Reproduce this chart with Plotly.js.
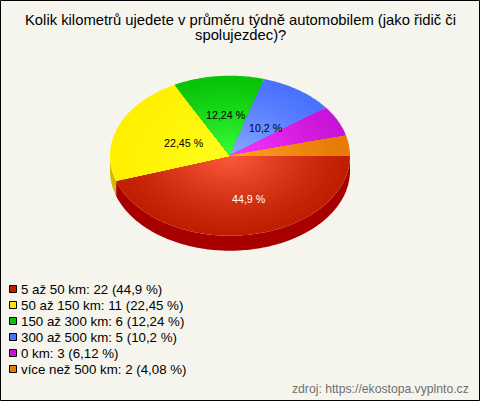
<!DOCTYPE html>
<html><head><meta charset="utf-8">
<script src="https://cdn.plot.ly/plotly-3.0.1.min.js"></script>
<style>html,body{margin:0;padding:0;background:#f5f5ee}#c{width:480px;height:401px}</style>
</head><body><div id="c"></div>
<script>
var categories = ['5 až 50 km','50 až 150 km','150 až 300 km','300 až 500 km','0 km','více než 500 km'];
var counts = [22,11,6,5,3,2];
var percentLabels = ['44,9 %','22,45 %','12,24 %','10,2 %','6,12 %','4,08 %'];
var edgeColors = ['#c01e00','#fff000','#08c408','#4a72ff','#c814d8','#e87a08'];
var centerColors = ['#ff5c3e','#ffff20','#3cff3c','#8cacff','#ff38ff','#ffa424'];
var swatchColors = ['#c01e00','#ffe800','#08c408','#4a72ff','#c814d8','#e87a08'];
var sideColors = ['#a80000','#d8b800','#009000','#2040c0','#900090','#b85000'];
var labelColors = ['#ffffff','#000000','#000000','#000000',null,null];
var titleLines = ['Kolik kilometrů ujedete v průměru týdně automobilem (jako řidič či','spolujezdec)?'];
var sourceText = 'zdroj: https://ekostopa.vyplnto.cz';

var RX=120, RY=80, DEPTH=15, CX=230, CY=155.7, W=480, H=401, STEPS=26;
var labelShiftX=[9.4,9.6,2,2], labelShiftY=[-3.8,-2,1,-5];
var FONT='Liberation Sans, Arial';
var total = counts.reduce(function(a,b){return a+b;},0);
function hex(c){return [1,3,5].map(function(i){return parseInt(c.substr(i,2),16);});}
function mix(a,b,t){var A=hex(a),B=hex(b);return 'rgb('+A.map(function(v,i){return Math.round(v+(B[i]-v)*t);}).join(',')+')';}
function wedge(a0,a1,r){var xs=[0],ys=[0],n=Math.max(3,Math.ceil((a1-a0)/0.02));
  for(var i=0;i<=n;i++){var a=a0+(a1-a0)*i/n;xs.push(r*RX*Math.cos(a));ys.push(-r*RY*Math.sin(a));}
  xs.push(0);ys.push(0);return {x:xs,y:ys};}
function side(a0,a1){a0=Math.max(a0,0);a1=Math.min(a1,Math.PI);if(a1<=a0)return null;var xs=[],ys=[],n=Math.ceil((a1-a0)/0.02),i,a;
  for(i=0;i<=n;i++){a=a0+(a1-a0)*i/n;xs.push(RX*Math.cos(a));ys.push(-RY*Math.sin(a));}
  for(i=n;i>=0;i--){a=a0+(a1-a0)*i/n;xs.push(RX*Math.cos(a));ys.push(-RY*Math.sin(a)-DEPTH);}
  xs.push(xs[0]);ys.push(ys[0]);return {x:xs,y:ys};}
var traces=[], annotations=[], shapes=[], start=0;
var fills=[];
counts.forEach(function(v,k){
  var a1=start+v/total*2*Math.PI, s=side(start,a1);
  if(s) traces.push({type:'scatter',mode:'none',x:s.x,y:s.y,fill:'toself',fillcolor:sideColors[k],hoverinfo:'skip',showlegend:false});
  for(var j=0;j<STEPS;j++){
    var r=1-j/STEPS, w=wedge(start,a1,r);
    fills.push({type:'scatter',mode:'none',x:w.x,y:w.y,fill:'toself',fillcolor:mix(edgeColors[k],centerColors[k],Math.pow(1-r,1.25)),
      name:categories[k],hoverinfo:j===0?'name':'skip',showlegend:false});
  }
  if(labelColors[k]){
    var m=(start+a1)/2;
    annotations.push({xref:'x',yref:'y',x:0.5*RX*Math.cos(m),y:-0.5*RY*Math.sin(m),xshift:labelShiftX[k],yshift:labelShiftY[k],text:percentLabels[k],showarrow:false,
      font:{family:FONT,size:10.7,color:labelColors[k]}});
  }
  annotations.push({xref:'paper',yref:'paper',xanchor:'left',yanchor:'middle',x:20/W,y:1-(289+16*k)/H,showarrow:false,borderpad:0,
     text:categories[k]+': '+v+' ('+percentLabels[k]+')',font:{family:FONT,size:13.3,color:'#000'}});
  shapes.push({type:'rect',xref:'paper',yref:'paper',x0:9.5/W,x1:16.5/W,y0:1-(285.5+16*k)/H,y1:1-(292.5+16*k)/H,fillcolor:swatchColors[k],line:{color:'#000',width:1}});
  start=a1;
});
traces=traces.concat(fills);
annotations.push({xref:'paper',yref:'paper',xanchor:'right',yanchor:'middle',x:470.5/W,y:1-389/H,showarrow:false,text:sourceText,
  font:{family:FONT,size:12.2,color:'#707070'}});
titleLines.forEach(function(line,i){
  annotations.push({xref:'paper',yref:'paper',xanchor:'center',yanchor:'middle',x:240/W,y:1-(19.5+16*i)/H,showarrow:false,text:line,
    font:{family:FONT,size:14.8,color:'#000'}});
});
shapes.push({type:'rect',xref:'paper',yref:'paper',x0:0.5/W,x1:479.5/W,y0:0.5/H,y1:400.5/H,line:{color:'#000',width:1},fillcolor:'rgba(0,0,0,0)'});
var layout={width:W,height:H,margin:{l:0,r:0,t:0,b:0},paper_bgcolor:'#f5f5ee',plot_bgcolor:'#f5f5ee',showlegend:false,
  xaxis:{range:[-CX,W-CX],visible:false,fixedrange:true},yaxis:{range:[CY-H,CY],visible:false,fixedrange:true},
  annotations:annotations,shapes:shapes};
Plotly.newPlot('c',traces,layout,{displayModeBar:false,staticPlot:true});
</script></body></html>
